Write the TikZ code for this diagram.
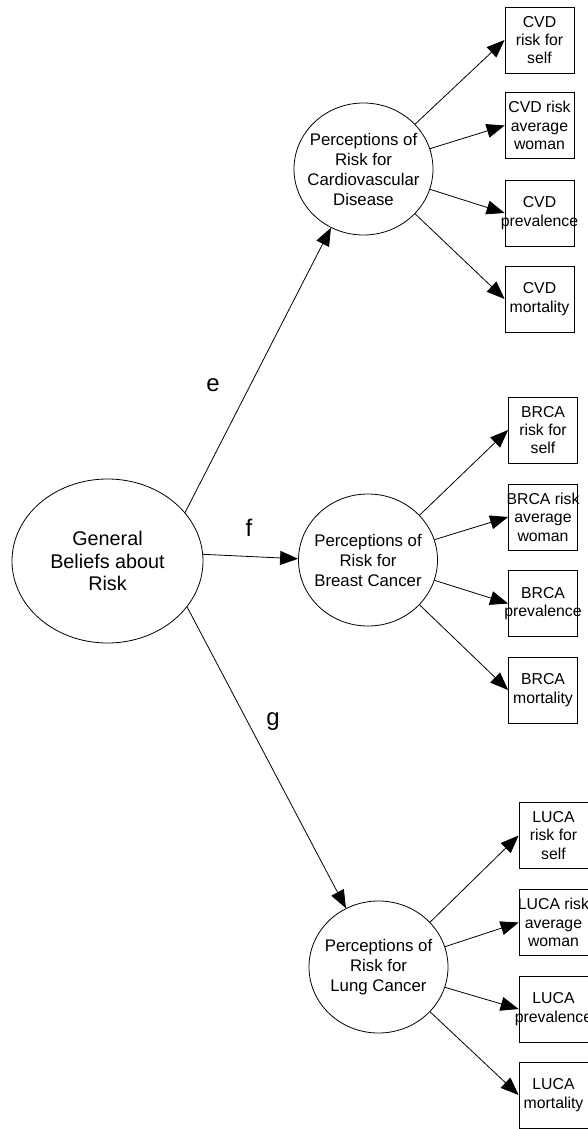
\documentclass[tikz,border=0pt]{standalone}
\usepackage{fontspec}
\setmainfont{Liberation Sans}
\usetikzlibrary{shapes.geometric,arrows.meta}

\tikzset{
  outline/.style={draw=black, line width=0.8pt},
  bubbletext/.style={font=\fontsize{16.8}{20}\selectfont, align=center, inner sep=0pt},
  boxtext/.style={font=\fontsize{15.8}{18.4}\selectfont, align=center, inner sep=0pt},
  general/.style={outline, ellipse, minimum width=191pt, minimum height=164pt, inner sep=0pt,
    label={[font=\fontsize{19.8}{22.6}\selectfont, align=center, inner sep=0pt]center:#1}},
  bubble/.style={outline, ellipse, minimum width=139pt, minimum height=132pt, inner sep=0pt,
    label={[bubbletext]center:#1}},
  measure/.style={outline, rectangle, minimum width=69pt, minimum height=66pt, inner sep=0pt,
    label={[boxtext]center:#1}},
  arr/.style={line width=0.8pt, -{Triangle[length=18pt, width=14pt]}},
  pathlabel/.style={font=\fontsize{24}{28}\selectfont, inner sep=0pt}
}

\begin{document}
\begin{tikzpicture}[x=1pt, y=-1pt]
\useasboundingbox (0,0) rectangle (587,1129);

% central construct
\node[general={General\\Beliefs about\\Risk}] (gen) at (107.5,561) {};

% disease-specific risk perceptions
\node[bubble={Perceptions of\\Risk for\\Cardiovascular\\Disease}] (cvd) at (363.5,169) {};
\node[bubble={Perceptions of\\Risk for\\Breast Cancer}] (brca) at (368,560) {};
\node[bubble={Perceptions of\\Risk for\\Lung Cancer}] (luca) at (378.5,967) {};

% cardiovascular indicators
\node[measure={CVD\\risk for\\self}] (cvd1) at (539.5,40) {};
\node[measure={CVD risk\\average\\woman}] (cvd2) at (539.5,125.5) {};
\node[measure={CVD\\prevalence}] (cvd3) at (539.5,213) {};
\node[measure={CVD\\mortality}] (cvd4) at (539.5,299) {};

% breast cancer indicators
\node[measure={BRCA\\risk for\\self}] (brca1) at (543,430) {};
\node[measure={BRCA risk\\average\\woman}] (brca2) at (543,517) {};
\node[measure={BRCA\\prevalence}] (brca3) at (543,603.5) {};
\node[measure={BRCA\\mortality}] (brca4) at (543,690) {};

% lung cancer indicators
\node[measure={LUCA\\risk for\\self}] (luca1) at (553.5,835.5) {};
\node[measure={LUCA risk\\average\\woman}] (luca2) at (553.5,922.5) {};
\node[measure={LUCA\\prevalence}] (luca3) at (553.5,1009) {};
\node[measure={LUCA\\mortality}] (luca4) at (553.5,1095) {};

% paths from general beliefs
\draw[arr] (gen.32) -- (cvd.241.5);
\draw[arr] (gen.4) -- (brca.179);
\draw[arr] (gen.-30) -- (luca.119);

\node[pathlabel] (le) at (213,385) {e};
\node[pathlabel] (lf) at (249,528) {f};
\node[pathlabel] (lg) at (273,722) {g};

% loadings
\foreach \c in {cvd,brca,luca}{
  \draw[arr] (\c.41) -- (\c1.west);
  \draw[arr] (\c.17) -- (\c2.west);
  \draw[arr] (\c.-17) -- (\c3.west);
  \draw[arr] (\c.-41) -- (\c4.west);
}
\end{tikzpicture}
\end{document}
